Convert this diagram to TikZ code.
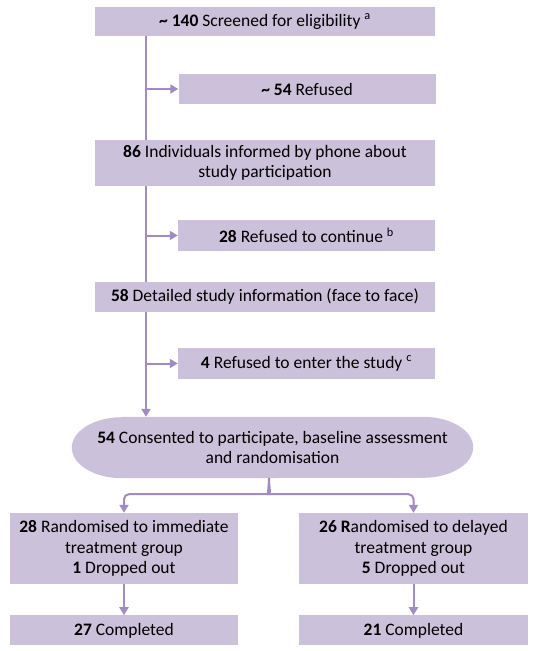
\documentclass[tikz,border=0pt]{standalone}
\usepackage{fontspec}
\setmainfont{Carlito}
\usetikzlibrary{positioning,arrows.meta,backgrounds}
\definecolor{boxfill}{RGB}{204,193,218}
\definecolor{lineviolet}{RGB}{160,140,194}

\begin{document}
\begin{tikzpicture}[x=1pt,y=-1pt,
    flow/.style={draw=lineviolet,line width=2pt,-{Triangle[width=9pt,length=8pt]}},
    main box/.style={rectangle,fill=boxfill,align=center,inner sep=0pt,font=\fontsize{17.5}{20.5}\selectfont},
    wide box/.style={main box,minimum width=340pt,minimum height=30pt},
    side box/.style={main box,minimum width=257pt,minimum height=31pt},
    group box/.style={main box,minimum width=228pt,minimum height=71pt}]

    \useasboundingbox (0,0) rectangle (536,651);

    % Define boxes
    \node[wide box,minimum height=29pt] (screen) at (265,21.5) {\textbf{\textasciitilde{} 140} Screened for eligibility \textsuperscript{a}};
    \node[side box,minimum height=30pt] (refused) at (307,89) {\textbf{\textasciitilde{} 54} Refused};
    \node[wide box,minimum height=46pt] (informed) at (265,163) {\textbf{86} Individuals informed by phone about\\study participation};
    \node[side box] (stopped) at (306.5,235.5) {\textbf{28} Refused to continue \textsuperscript{b}};
    \node[wide box] (detailed) at (265,297) {\textbf{58} Detailed study information (face to face)};
    \node[side box] (declined) at (306.5,363.5) {\textbf{4} Refused to enter the study \textsuperscript{c}};
    \node[main box,fill=none,minimum width=401pt,minimum height=61pt] (consent) at (272.5,447.5)
        {\textbf{54} Consented to participate, baseline assessment\\and randomisation};
    \node[group box] (immed) at (124,548.5) {\textbf{28} Randomised to immediate\\treatment group\\\textbf{1} Dropped out};
    \node[group box,minimum width=229pt] (delay) at (413.5,548.5) {\textbf{26 R}andomised to delayed\\treatment group\\\textbf{5} Dropped out};
    \node[group box,minimum height=30pt,below=31pt of immed] (immeddone) {\textbf{27} Completed};
    \node[group box,minimum height=30pt,minimum width=229pt,below=31pt of delay] (delaydone) {\textbf{21} Completed};

    \coordinate (spine) at (146,0);
    \coordinate (split) at ([xshift=-3.5pt]consent.south);

    % Draw edges
    \begin{scope}[on background layer]
        \draw[flow] (spine |- screen.south) -- (spine |- consent.north);
        \fill[boxfill] ([xshift=50pt]consent.north west) -- ([xshift=-50pt]consent.north east)
            arc[start angle=90,end angle=-90,x radius=50pt,y radius=30.5pt]
            -- ([xshift=50pt]consent.south west)
            arc[start angle=270,end angle=90,x radius=50pt,y radius=30.5pt] -- cycle;
    \end{scope}
    \draw[flow] (spine |- refused.west) -- (refused.west);
    \draw[flow] (spine |- stopped.west) -- (stopped.west);
    \draw[flow] (spine |- declined.west) -- (declined.west);
    \draw[flow,rounded corners=5pt] (split) .. controls +(0,8) and +(3,0) .. +(-5,16) -| (immed.north);
    \draw[flow,rounded corners=5pt] (split) .. controls +(0,8) and +(-3,0) .. +(5,16) -| (delay.north);
    \draw[flow] (immed) -- (immeddone);
    \draw[flow] (delay) -- (delaydone);

\end{tikzpicture}
\end{document}
